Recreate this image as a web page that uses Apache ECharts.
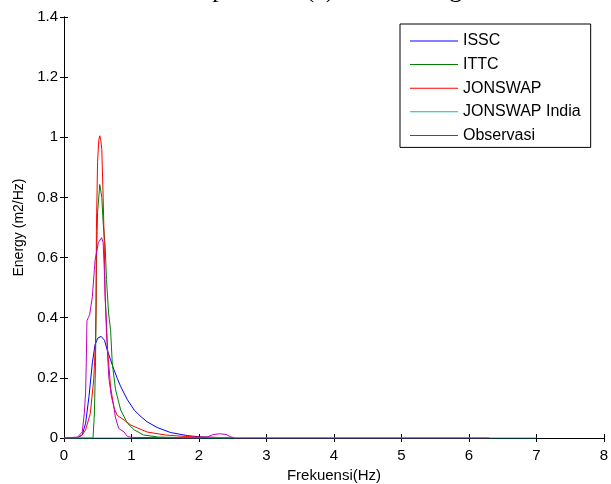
<!DOCTYPE html>
<html>
<head>
<meta charset="utf-8">
<script src="https://cdn.jsdelivr.net/npm/echarts@6/dist/echarts.min.js"></script>
<style>
  html, body { margin: 0; padding: 0; background: #fff; }
  #chart { width: 611px; height: 484px; }
</style>
</head>
<body>
<div id="chart"></div>
<script>
// values
const isscFreq = [0, 0.2, 0.27, 0.32, 0.37, 0.42, 0.46, 0.5, 0.55, 0.6, 0.64, 0.69, 0.74, 0.79, 0.84, 0.94, 1.04, 1.14, 1.23, 1.38, 1.58, 1.83, 2.0, 2.35]
const isscEnergy = [0, 0.001, 0.01, 0.049, 0.138, 0.25, 0.31, 0.332, 0.338, 0.325, 0.293, 0.26, 0.227, 0.198, 0.171, 0.127, 0.093, 0.071, 0.054, 0.035, 0.018, 0.008, 0.004, 0.001]

const ittcFreq = [0, 0.43, 0.44, 0.45, 0.467, 0.475, 0.48, 0.497, 0.53, 0.56, 0.58, 0.61, 0.63, 0.66, 0.69, 0.715, 0.764, 0.84, 0.94, 1.04, 1.18, 1.4, 1.8, 2.5]
const ittcEnergy = [0, 0, 0.004, 0.08, 0.25, 0.42, 0.58, 0.75, 0.843, 0.8, 0.716, 0.638, 0.527, 0.416, 0.36, 0.249, 0.16, 0.093, 0.049, 0.027, 0.01, 0.003, 0.001, 0]

const jonswapFreq = [0, 0.2, 0.27, 0.32, 0.39, 0.44, 0.467, 0.475, 0.48, 0.497, 0.515, 0.53, 0.545, 0.56, 0.58, 0.597, 0.61, 0.63, 0.65, 0.69, 0.74, 0.79, 0.89, 0.99, 1.04, 1.23, 1.5, 1.8, 2.0, 2.5]
const jonswapEnergy = [0, 0.001, 0.01, 0.027, 0.082, 0.193, 0.32, 0.45, 0.69, 0.916, 0.99, 1.005, 0.99, 0.96, 0.8, 0.638, 0.47, 0.35, 0.28, 0.17, 0.1, 0.075, 0.06, 0.043, 0.038, 0.02, 0.01, 0.005, 0.003, 0.001]

const indiaFreq = [0, 1, 2, 3, 4, 5, 6, 7]
const indiaEnergy = [0, 0, 0, 0, 0, 0, 0, 0]

const obsFreq = [0, 0.2, 0.27, 0.3, 0.32, 0.33, 0.34, 0.36, 0.38, 0.4, 0.42, 0.45, 0.46, 0.48, 0.51, 0.556, 0.58, 0.597, 0.61, 0.63, 0.645, 0.665, 0.7, 0.74, 0.76, 0.81, 0.89, 0.94, 1.0, 1.5, 2.0, 2.12, 2.2, 2.3, 2.4, 2.47, 2.53, 4, 6.3]
const obsEnergy = [0, 0.003, 0.02, 0.08, 0.15, 0.25, 0.39, 0.4, 0.41, 0.44, 0.47, 0.56, 0.59, 0.615, 0.65, 0.666, 0.65, 0.56, 0.47, 0.38, 0.28, 0.2, 0.14, 0.104, 0.07, 0.032, 0.02, 0.005, 0.002, 0.001, 0, 0.003, 0.011, 0.014, 0.012, 0.004, 0, 0, 0]

const xTicks = [0, 8, 1]
const yTicks = [0, 1.4, 0.2]

const pairs = (xs, ys) => xs.map((x, i) => [x, ys[i]])

const font = 'Arial, "Liberation Sans", sans-serif'

const lineSeries = (name, xs, ys, color) => ({
  name,
  type: 'line',
  data: pairs(xs, ys),
  symbol: 'none',
  smooth: false,
  lineStyle: { color, width: 1 },
  itemStyle: { color },
  emphasis: { disabled: true }
})

const chart = echarts.init(document.getElementById('chart'))

const hiddenAxis = {
  min: 0,
  axisLine: { show: true, lineStyle: { color: '#000', width: 1 } },
  axisTick: { show: true, inside: true, length: 4, lineStyle: { color: '#000' } },
  axisLabel: { show: false },
  splitLine: { show: false }
}

chart.setOption({
  animation: false,
  backgroundColor: '#fff',
  // title is cut off by the top edge in the original
  graphic: [{
    type: 'text',
    style: {
      x: 330, y: 3,
      text: 'Spektrum (a) Gelombang',
      font: '26px "Liberation Serif", "Times New Roman", serif',
      fill: '#000',
      textAlign: 'center',
      textVerticalAlign: 'bottom'
    }
  }],
  grid: {
    left: 64, top: 17, width: 540, height: 421,
    containLabel: false,
    outerBoundsMode: 'none'
  },
  legend: {
    orient: 'vertical',
    left: 400,
    top: 24,
    padding: [9, 10, 4, 10],
    icon: 'rect',
    itemWidth: 48,
    itemHeight: 1,
    itemGap: 7.6,
    borderColor: '#000',
    borderWidth: 1,
    backgroundColor: '#fff',
    textStyle: { fontFamily: font, fontSize: 16, color: '#000' },
    data: ['ISSC', 'ITTC', 'JONSWAP', 'JONSWAP India', 'Observasi']
  },
  xAxis: [{
    type: 'value',
    min: xTicks[0], max: xTicks[1], interval: xTicks[2],
    position: 'bottom',
    name: 'Frekuensi(Hz)',
    nameLocation: 'middle',
    nameGap: 30,
    nameTextStyle: { fontFamily: font, fontSize: 15, color: '#000' },
    axisLine: { show: true, onZero: false, lineStyle: { color: '#000', width: 1 } },
    axisTick: { show: true, inside: true, length: 4, lineStyle: { color: '#000' } },
    axisLabel: { fontFamily: font, fontSize: 15, color: '#000', margin: 10 },
    splitLine: { show: false }
  }, Object.assign({}, hiddenAxis, {
    type: 'value', position: 'top', max: xTicks[1], interval: xTicks[2]
  })],
  yAxis: [{
    type: 'value',
    min: yTicks[0], max: yTicks[1], interval: yTicks[2],
    position: 'left',
    name: 'Energy (m2/Hz)',
    nameLocation: 'middle',
    nameGap: 37,
    nameTextStyle: { fontFamily: font, fontSize: 14, color: '#000' },
    axisLine: { show: true, onZero: false, lineStyle: { color: '#000', width: 1 } },
    axisTick: { show: true, inside: true, length: 4, lineStyle: { color: '#000' } },
    axisLabel: {
      fontFamily: font, fontSize: 15, color: '#000', margin: 6,
      formatter: v => String(Math.round(v * 10) / 10)
    },
    splitLine: { show: false }
  }, Object.assign({}, hiddenAxis, {
    type: 'value', position: 'right', max: yTicks[1], interval: yTicks[2]
  })],
  series: [
    lineSeries('ISSC', isscFreq, isscEnergy, '#0000ff'),
    lineSeries('ITTC', ittcFreq, ittcEnergy, '#008000'),
    lineSeries('JONSWAP', jonswapFreq, jonswapEnergy, '#ff0000'),
    lineSeries('JONSWAP India', indiaFreq, indiaEnergy, '#00bfbf'),
    lineSeries('Observasi', obsFreq, obsEnergy, '#bf00bf')
  ]
})
</script>
</body>
</html>
